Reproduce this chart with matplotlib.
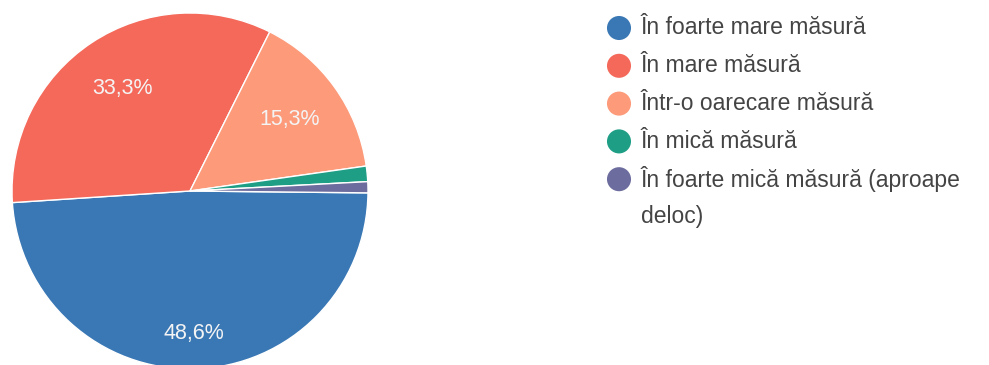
import matplotlib
matplotlib.use("Agg")
import matplotlib.pyplot as plt
import numpy as np

plt.rcParams['font.family'] = ['Liberation Sans', 'DejaVu Sans']

# date
categorii = [
    "În foarte mare măsură",
    "În mare măsură",
    "Într-o oarecare măsură",
    "În mică măsură",
    "În foarte mică măsură (aproape\ndeloc)",
]
procente = [48.6, 33.3, 15.3, 1.4, 1.0]
culori = ["#3a78b5", "#f4695a", "#fc9a7a", "#1f9e86", "#6c6c9e"]
etichete_vizibile = [True, True, True, False, False]
raza_eticheta = [0.80, 0.69, 0.69, 0.7, 0.7]

W, H = 989, 365
fig = plt.figure(figsize=(W / 100, H / 100), dpi=100)

# pie in pixel coords: centru (190, 191), raza 178
cx, cy, r = 190, 191, 178
ax = fig.add_axes([(cx - r) / W, (H - cy - r) / H, 2 * r / W, 2 * r / H])
wedges, _ = ax.pie(procente, colors=culori, startangle=-0.6, counterclock=False,
                   radius=1, wedgeprops=dict(edgecolor="white", linewidth=1.0))
ax.set_xlim(-1, 1)
ax.set_ylim(-1, 1)
ax.set_aspect("equal")
ax.axis("off")

for w, p, vis, rl in zip(wedges, procente, etichete_vizibile, raza_eticheta):
    if not vis:
        continue
    mid = np.deg2rad((w.theta1 + w.theta2) / 2)
    txt = f"{p:.1f}%".replace(".", ",")
    ax.text(rl * np.cos(mid), rl * np.sin(mid), txt, ha="center", va="center",
            fontsize=15.5, color="#f4f4f4")

# legenda desenata manual (cerc + text)
leg = fig.add_axes([0, 0, 1, 1])
leg.set_xlim(0, W)
leg.set_ylim(H, 0)
leg.axis("off")
y0, pas = 28, 37.8
for i, (lab, c) in enumerate(zip(categorii, culori)):
    y = y0 + i * pas
    leg.scatter([619], [y], s=300, color=c, edgecolors="none")
    for k, linie in enumerate(lab.split("\n")):
        leg.text(641, y + k * 37, linie, ha="left", va="center",
                 fontsize=16.5, color="#444444")

fig.savefig("out.png", dpi=100)
